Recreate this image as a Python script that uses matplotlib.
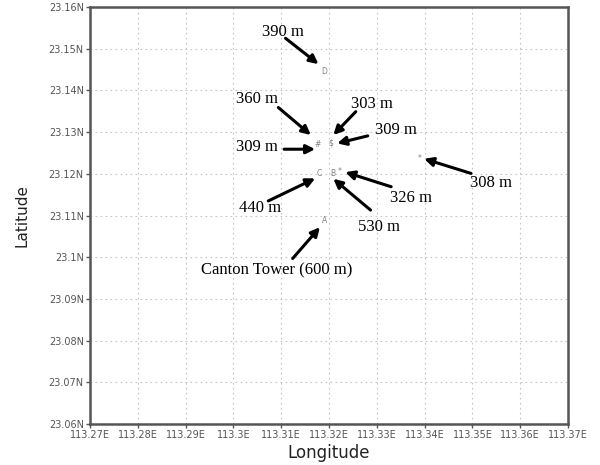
import matplotlib
matplotlib.use("Agg")
import matplotlib.pyplot as plt
import numpy as np

# building positions (lon, lat) and the GrADS-style mark character drawn there
mark_chars = ["A", "B", "C", "D", "#", "$", "*", "*"]
mark_lon = [113.3190, 113.3207, 113.3179, 113.3190, 113.3176, 113.3204, 113.3222, 113.3389]
mark_lat = [23.1088, 23.1200, 23.1200, 23.1445, 23.1270, 23.1275, 23.1205, 23.1236]

# annotation labels, text centres and arrows (tail -> tip)
labels = ["390 m", "360 m", "303 m", "309 m", "309 m", "308 m",
          "326 m", "440 m", "530 m", "Canton Tower (600 m)"]
text_lon = [113.3104, 113.3049, 113.3289, 113.3340, 113.3049, 113.3538,
            113.3371, 113.3056, 113.3305, 113.3091]
text_lat = [23.1540, 23.1379, 23.1367, 23.1305, 23.1265, 23.1177,
            23.1143, 23.1118, 23.1073, 23.0969]
tail_lon = [113.3109, 113.3094, 113.3256, 113.3281, 113.3106, 113.3497,
            113.3330, 113.3073, 113.3287, 113.3124]
tail_lat = [23.1525, 23.1359, 23.1349, 23.1291, 23.1259, 23.1201,
            23.1169, 23.1135, 23.1113, 23.0997]
tip_lon = [113.3178, 113.3162, 113.3209, 113.3217, 113.3171, 113.3399,
           113.3234, 113.3171, 113.3209, 113.3181]
tip_lat = [23.1463, 23.1293, 23.1293, 23.1273, 23.1259, 23.1236,
           23.1204, 23.1189, 23.1188, 23.1072]

lon_ticks = np.round(np.arange(113.27, 113.3701, 0.01), 2)
lat_ticks = np.round(np.arange(23.06, 23.1601, 0.01), 2)
lon_labels = ["113.27E", "113.28E", "113.29E", "113.3E", "113.31E", "113.32E",
              "113.33E", "113.34E", "113.35E", "113.36E", "113.37E"]
lat_labels = ["23.06N", "23.07N", "23.08N", "23.09N", "23.1N", "23.11N",
              "23.12N", "23.13N", "23.14N", "23.15N", "23.16N"]

fig = plt.figure(figsize=(6, 4.65), dpi=100)
ax = fig.add_axes([0.15, 0.088, 0.7967, 0.897])

ax.set_xlim(113.27, 113.37)
ax.set_ylim(23.06, 23.16)
ax.set_xticks(lon_ticks)
ax.set_xticklabels(lon_labels)
ax.set_yticks(lat_ticks)
ax.set_yticklabels(lat_labels)
ax.tick_params(axis="both", labelsize=7, labelcolor="#555555", color="#555555",
               length=3, width=1, pad=1.5, direction="out")
ax.grid(True, color="#c4c4c4", linestyle=(0, (1.5, 3)), linewidth=0.8)

for s in ax.spines.values():
    s.set_linewidth(1.8)
    s.set_color("#555555")

for ch, x, y in zip(mark_chars, mark_lon, mark_lat):
    ax.text(x, y, ch, fontsize=5.5, color="#808080", ha="center", va="center")

for i in range(len(labels)):
    ax.annotate("", xy=(tip_lon[i], tip_lat[i]), xytext=(tail_lon[i], tail_lat[i]),
                arrowprops=dict(arrowstyle="-|>", color="black", lw=2.2,
                                mutation_scale=13, shrinkA=0, shrinkB=0))
    ax.text(text_lon[i], text_lat[i], labels[i], fontsize=12, family="Liberation Serif",
            ha="center", va="center", color="black")

ax.set_xlabel("Longitude", fontsize=12, color="#222222", labelpad=3)
ax.set_ylabel("Latitude", fontsize=11, color="#222222", labelpad=14)

fig.savefig("out.png", dpi=100)
